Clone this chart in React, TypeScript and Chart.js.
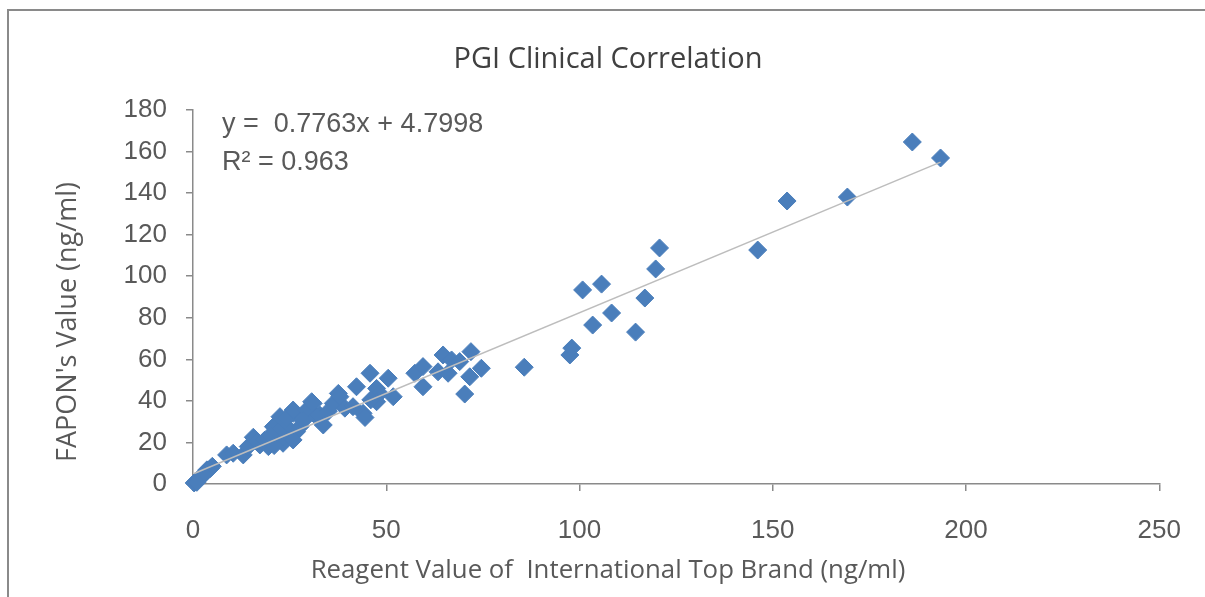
import React, { useEffect, useRef } from "react";
import { Chart, registerables } from "chart.js";

Chart.register(...registerables);

// Reagent value of international top brand (x, ng/ml)
const brandValues: number[] = [
  0.3, 0.8, 1.5, 2.2, 3.0, 3.6, 4.5, 5.0, 2.8, 1.0,
  8.7, 10.4, 13.0, 14.3, 15.6, 17.3, 19.5, 16.5, 18.5,
  20.8, 22.5, 24.2, 21.6, 23.3, 25.9, 26.8, 27.7, 23.3, 25.9, 24.2, 25.9, 29.4, 30.7, 22.0, 28.5, 20.0, 21.0,
  31.1, 32.0, 32.8, 33.7, 36.3, 37.6, 38.0, 39.3, 35.0,
  41.4, 42.3, 44.0, 44.5, 45.8, 47.5, 48.3, 47.5, 46.0,
  50.5, 51.8, 57.4, 59.5, 59.5,
  64.7, 66.9, 63.4, 66.0, 69.0, 71.9, 74.6, 71.6, 70.3,
  85.7, 97.5, 98.0, 100.8, 103.4, 105.7, 108.3, 114.5, 116.9, 119.7, 120.7,
  146.1, 153.7, 169.3, 186.1, 193.4,
];

// FAPON's value (y, ng/ml)
const faponValues: number[] = [
  0.5, 1.2, 2.5, 3.8, 5.2, 6.8, 7.5, 8.5, 4.5, 0.8,
  14.0, 14.8, 14.0, 18.0, 22.5, 18.8, 18.0, 20.5, 21.0,
  27.6, 32.4, 27.6, 21.2, 19.6, 34.0, 25.2, 27.6, 22.8, 21.2, 31.6, 35.6, 35.6, 39.6, 25.0, 30.5, 23.5, 18.5,
  38.8, 32.4, 33.2, 28.4, 38.8, 43.6, 42.0, 36.5, 35.0,
  37.2, 46.8, 34.0, 32.0, 53.3, 46.0, 43.6, 39.6, 40.5,
  50.9, 42.0, 53.3, 56.5, 46.8,
  62.1, 59.7, 54.0, 53.3, 58.9, 63.7, 55.7, 51.6, 43.3,
  56.2, 62.1, 65.4, 93.4, 76.5, 96.2, 82.3, 73.1, 89.5, 103.5, 113.6,
  112.6, 136.2, 138.1, 164.6, 156.9,
];

// Linear trendline as stated on the chart
const trendSlope = 0.7763;
const trendIntercept = 4.7998;
const trendR2 = 0.963;

const xTickValues: number[] = [0, 50, 100, 150, 200, 250];
const yTickValues: number[] = [0, 20, 40, 60, 80, 100, 120, 140, 160, 180];

const titleText = "PGI Clinical Correlation";
const xTitleText = "Reagent Value of  International Top Brand (ng/ml)";
const yTitleText = "FAPON's Value (ng/ml)";
const equationText = "y =  " + trendSlope.toFixed(4) + "x + " + trendIntercept.toFixed(4);
const r2Text = "R\u00B2 = " + trendR2.toFixed(3);

export default function App() {
  const canvasRef = useRef<HTMLCanvasElement | null>(null);

  useEffect(() => {
    const canvas = canvasRef.current;
    if (!canvas) return;

    const points = brandValues.map((x, i) => ({ x, y: faponValues[i] }));
    const xMin = Math.min(...brandValues);
    const xMax = Math.max(...brandValues);
    const trendPoints = [
      { x: xMin, y: trendSlope * xMin + trendIntercept },
      { x: xMax, y: trendSlope * xMax + trendIntercept },
    ];

    const titleFamily = "'Open Sans', sans-serif";

    const textPlugin = {
      id: "texts",
      afterDraw(chart: any) {
        const { ctx, chartArea } = chart;
        ctx.save();
        // chart title
        ctx.fillStyle = "#404040";
        ctx.font = "29px " + titleFamily;
        ctx.textAlign = "center";
        ctx.textBaseline = "middle";
        ctx.fillText(titleText, 608, 60);
        // axis titles
        ctx.fillStyle = "#595959";
        ctx.font = "25.8px " + titleFamily;
        ctx.fillText(xTitleText, 608, 571);
        ctx.save();
        ctx.translate(68, 322);
        ctx.rotate(-Math.PI / 2);
        ctx.font = "27px " + titleFamily;
        ctx.fillText(yTitleText, 0, 0);
        ctx.restore();
        // trendline equation
        ctx.fillStyle = "#595959";
        ctx.font = "27px 'Liberation Sans', Arial, sans-serif";
        ctx.textAlign = "left";
        ctx.textBaseline = "middle";
        ctx.fillText(equationText, chartArea.left + 29, chartArea.top + 15);
        ctx.fillText(r2Text, chartArea.left + 29, chartArea.top + 53);
        ctx.restore();
      },
    };

    const axisColor = "#8a8a8a";
    const tickFont = { family: "'Liberation Sans', Arial, sans-serif", size: 26 };

    const chart = new Chart(canvas, {
      type: "scatter",
      data: {
        datasets: [
          {
            type: "line",
            label: "Trend",
            data: trendPoints,
            borderColor: "#bdbdbd",
            borderWidth: 1.5,
            pointRadius: 0,
            fill: false,
            showLine: true,
            clip: false,
          } as any,
          {
            label: "Samples",
            data: points,
            pointStyle: "rectRot",
            pointRadius: 9,
            pointHoverRadius: 9,
            backgroundColor: "#4a7ebb",
            borderColor: "#4a7ebb",
            borderWidth: 1,
            clip: false,
          } as any,
        ],
      },
      options: {
        animation: false,
        responsive: false,
        maintainAspectRatio: false,
        events: [],
        layout: { padding: { left: 0, right: 45, top: 110, bottom: 0 } },
        plugins: {
          legend: { display: false },
          tooltip: { enabled: false },
          title: { display: false },
        },
        scales: {
          x: {
            type: "linear",
            min: 0,
            max: 250,
            afterBuildTicks: (scale: any) => {
              scale.ticks = xTickValues.map((v) => ({ value: v }));
            },
            afterFit: (scale: any) => {
              scale.height = 113;
            },
            grid: { drawOnChartArea: false, drawTicks: true, tickLength: 7, color: axisColor, lineWidth: 1.5 },
            border: { display: true, color: axisColor, width: 1.5 },
            ticks: { color: "#595959", font: tickFont, padding: 24, maxRotation: 0 },
          },
          y: {
            type: "linear",
            min: 0,
            max: 180,
            afterBuildTicks: (scale: any) => {
              scale.ticks = yTickValues.map((v) => ({ value: v }));
            },
            afterFit: (scale: any) => {
              scale.width = 193;
            },
            grid: { drawOnChartArea: false, drawTicks: true, tickLength: 7, color: axisColor, lineWidth: 1.5 },
            border: { display: true, color: axisColor, width: 1.5 },
            ticks: { color: "#595959", font: tickFont, padding: 19 },
          },
        },
      },
      plugins: [textPlugin],
    } as any);

    return () => {
      chart.destroy();
    };
  }, []);

  return (
    <div
      style={{
        position: "absolute",
        left: 0,
        top: 0,
        width: 1205,
        height: 597,
        overflow: "hidden",
        background: "#ffffff",
      }}
    >
      <canvas
        ref={canvasRef}
        width={1205}
        height={597}
        style={{ display: "block", width: 1205, height: 597 }}
      />
      <div
        style={{
          position: "absolute",
          left: 7,
          top: 9,
          width: 1300,
          height: 700,
          borderTop: "2px solid #8a8a8a",
          borderLeft: "2px solid #8a8a8a",
          pointerEvents: "none",
        }}
      />
    </div>
  );
}
